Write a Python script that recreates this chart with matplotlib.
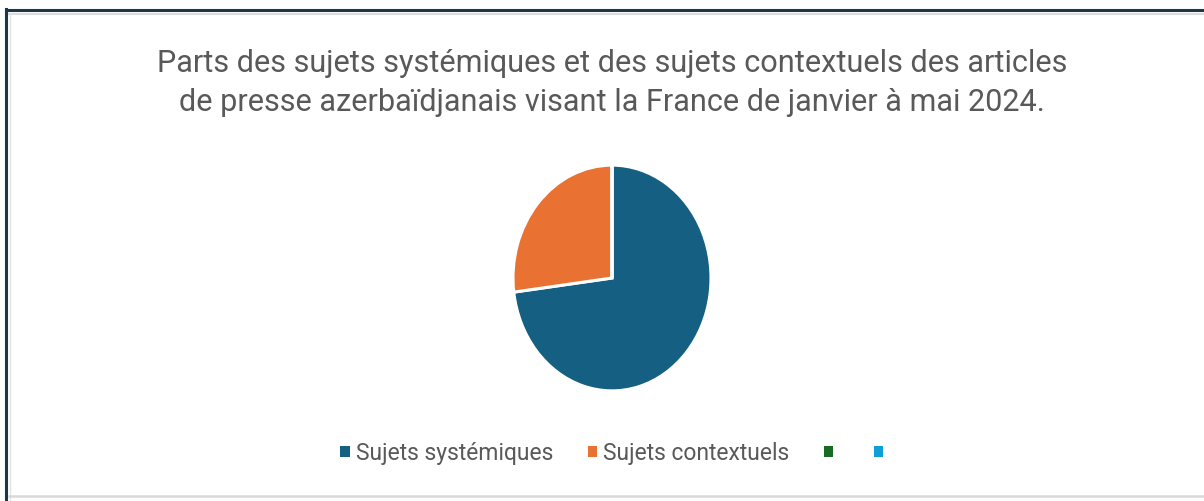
import matplotlib
matplotlib.use("Agg")
import matplotlib.pyplot as plt
from matplotlib.lines import Line2D
from matplotlib.patches import Patch

titolo = ("Parts des sujets systémiques et des sujets contextuels des articles\n"
          "de presse azerbaïdjanais visant la France de janvier à mai 2024.")
categorie = ["Sujets systémiques", "Sujets contextuels", "", ""]
valori = [73, 27, 0, 0]
colori = ["#156082", "#E97132", "#196B24", "#0F9ED5"]

plt.rcParams['font.family'] = ['Roboto', 'DejaVu Sans']

W, H = 1204, 502
fig = plt.figure(figsize=(W / 100, H / 100), dpi=100)

# cornice (bordo scuro sopra e a sinistra, linee grigie chiare)
def px_line(x0, y0, x1, y1, color, lw):
    fig.add_artist(Line2D([x0 / W, x1 / W], [1 - y0 / H, 1 - y1 / H],
                          transform=fig.transFigure, color=color, linewidth=lw))

px_line(6, 11, W, 11, "#1d3747", 2.2)
px_line(9, 14.5, W, 14.5, "#dcdcdc", 1.5)
px_line(6, 10, 6, H, "#1d3747", 2.2)
px_line(9.5, 14, 9.5, H, "#e4e4e4", 1.0)
px_line(9, 497, W, 497, "#d9d9d9", 1.8)

fig.text(612 / W, 1 - 83 / H, titolo, ha='center', va='center',
         fontsize=22.1, color='#595959', linespacing=1.4)

# torta (leggermente ellittica come nell'originale)
ax = fig.add_axes([512 / W, 1 - 393 / H, 200 / W, 228 / H])
ax.pie(valori, colors=colori, startangle=90, counterclock=False,
       wedgeprops=dict(edgecolor='white', linewidth=2.2))
ax.set_aspect('auto')
ax.set_xlim(-1.01, 1.01)
ax.set_ylim(-1.01, 1.01)
ax.axis('off')

handles = [Patch(facecolor=c, edgecolor='none') for c in colori]
fig.legend(handles, categorie, loc='center', bbox_to_anchor=(615 / W, 1 - 454 / H),
           ncol=4, frameon=False, fontsize=16.5, labelcolor='#595959',
           handlelength=0.4, handleheight=0.4, handletextpad=0.28, columnspacing=1.5)

fig.savefig("out.png", dpi=100, facecolor='white')
